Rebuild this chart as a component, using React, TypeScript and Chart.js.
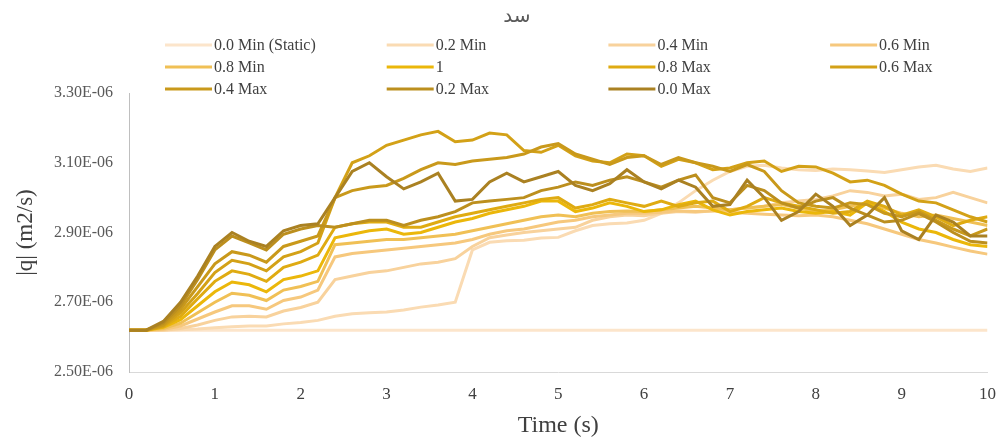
import React, { useEffect, useRef } from "react";
import { Chart, registerables } from "chart.js";

Chart.register(...registerables);

// Time (s)
const TIME = [
  0, 0.2, 0.4, 0.6, 0.8, 1.0, 1.2, 1.4, 1.6, 1.8,
  2.0, 2.2, 2.4, 2.6, 2.8, 3.0, 3.2, 3.4, 3.6, 3.8,
  4.0, 4.2, 4.4, 4.6, 4.8, 5.0, 5.2, 5.4, 5.6, 5.8,
  6.0, 6.2, 6.4, 6.6, 6.8, 7.0, 7.2, 7.4, 7.6, 7.8,
  8.0, 8.2, 8.4, 8.6, 8.8, 9.0, 9.2, 9.4, 9.6, 9.8,
  10.0,
];

// |q| values in units of 1E-06 m2/s
const MIN_00 = [
  2.62, 2.62, 2.62, 2.62, 2.62, 2.62, 2.62, 2.62, 2.62, 2.62,
  2.62, 2.62, 2.62, 2.62, 2.62, 2.62, 2.62, 2.62, 2.62, 2.62,
  2.62, 2.62, 2.62, 2.62, 2.62, 2.62, 2.62, 2.62, 2.62, 2.62,
  2.62, 2.62, 2.62, 2.62, 2.62, 2.62, 2.62, 2.62, 2.62, 2.62,
  2.62, 2.62, 2.62, 2.62, 2.62, 2.62, 2.62, 2.62, 2.62, 2.62,
  2.62,
];
const MIN_02 = [
  2.62, 2.62, 2.62, 2.621, 2.623, 2.627, 2.63, 2.632, 2.632, 2.638,
  2.642, 2.648, 2.66, 2.667, 2.67, 2.672, 2.678, 2.686, 2.692, 2.7,
  2.85, 2.872, 2.876, 2.878, 2.884, 2.886, 2.905, 2.92, 2.925, 2.927,
  2.935, 2.955, 2.985, 3.02, 3.05, 3.075, 3.09, 3.093, 3.085, 3.08,
  3.078, 3.082, 3.08, 3.076, 3.072, 3.08, 3.088, 3.093, 3.082, 3.075,
  3.085,
];
const MIN_04 = [
  2.62, 2.62, 2.62, 2.625, 2.635, 2.648, 2.658, 2.66, 2.658, 2.675,
  2.685, 2.7, 2.765, 2.775, 2.785, 2.79, 2.8, 2.81, 2.815, 2.825,
  2.86, 2.885, 2.893, 2.9, 2.905, 2.91, 2.915, 2.935, 2.945, 2.95,
  2.948, 2.955, 2.96, 2.958, 2.962, 2.965, 2.97, 2.975, 2.985, 2.99,
  2.995, 3.005, 3.02, 3.015, 3.005, 3.01, 2.995, 3.0, 3.015, 3.0,
  2.985,
];
const MIN_06 = [
  2.62, 2.62, 2.622, 2.632, 2.652, 2.672, 2.69, 2.69, 2.68, 2.705,
  2.715, 2.735, 2.83, 2.84, 2.845, 2.85, 2.855, 2.86, 2.865, 2.87,
  2.88, 2.895, 2.905, 2.91, 2.92, 2.93, 2.935, 2.945, 2.95, 2.955,
  2.955, 2.958, 2.962, 2.96, 2.962, 2.958, 2.955, 2.952, 2.95, 2.948,
  2.95, 2.945, 2.935, 2.925, 2.91, 2.895, 2.88, 2.87, 2.858, 2.847,
  2.838,
];
const MIN_08 = [
  2.62, 2.62, 2.625, 2.64, 2.67, 2.7, 2.726, 2.72, 2.705, 2.735,
  2.745, 2.76, 2.865, 2.87, 2.875, 2.88, 2.88, 2.885, 2.89, 2.895,
  2.905, 2.915, 2.925, 2.935, 2.945, 2.95, 2.945, 2.955, 2.96, 2.962,
  2.96, 2.965, 2.97, 2.975, 2.97, 2.965, 2.97, 2.975, 2.98, 2.97,
  2.96, 2.965, 2.975, 2.985, 2.97, 2.955, 2.945, 2.95, 2.94, 2.93,
  2.92,
];
const ONE = [
  2.62, 2.62, 2.628, 2.65, 2.69, 2.73, 2.758, 2.75, 2.73, 2.765,
  2.775, 2.79, 2.885, 2.895, 2.905, 2.91, 2.895, 2.9, 2.915, 2.93,
  2.94, 2.955, 2.965, 2.975, 2.99, 2.99, 2.96, 2.97, 2.985, 2.975,
  2.96, 2.965, 2.98, 2.99, 2.965, 2.95, 2.96, 2.965, 2.97, 2.96,
  2.955, 2.96, 2.95, 2.985, 2.96, 2.93, 2.91, 2.9, 2.88, 2.865,
  2.86,
];
const MAX_08 = [
  2.62, 2.62, 2.63, 2.66, 2.71, 2.76, 2.79, 2.78, 2.76, 2.8,
  2.815, 2.835, 2.915, 2.925, 2.93, 2.93, 2.915, 2.915, 2.93, 2.945,
  2.955, 2.965, 2.975, 2.985, 2.995, 3.0, 2.97, 2.98, 2.995, 2.985,
  2.975, 2.99, 2.975, 2.985, 2.99, 2.96, 2.975, 3.0, 2.985, 2.975,
  2.965, 2.955, 2.96, 2.99, 2.975, 2.95, 2.965, 2.945, 2.92, 2.935,
  2.945,
];
const MAX_06 = [
  2.62, 2.62, 2.632, 2.67, 2.725, 2.785, 2.82, 2.81, 2.79, 2.83,
  2.845, 2.87, 3.0, 3.1, 3.12, 3.15, 3.165, 3.18, 3.19, 3.16,
  3.165, 3.185, 3.18, 3.135, 3.13, 3.15, 3.12, 3.105, 3.1, 3.125,
  3.12, 3.09, 3.11, 3.1, 3.08, 3.085, 3.1, 3.105, 3.075, 3.09,
  3.088, 3.07, 3.045, 3.05, 3.035, 3.01, 2.99, 2.985, 2.965, 2.945,
  2.93,
];
const MAX_04 = [
  2.62, 2.62, 2.635, 2.68, 2.745, 2.81, 2.845, 2.835, 2.815, 2.86,
  2.875, 2.89, 3.0, 3.02, 3.03, 3.035, 3.055, 3.08, 3.1, 3.095,
  3.105, 3.11, 3.115, 3.125, 3.145, 3.155, 3.125, 3.11, 3.095, 3.115,
  3.12, 3.095, 3.115, 3.1, 3.09, 3.075, 3.095, 3.075, 3.02, 2.985,
  2.975, 2.97, 2.985, 2.98, 2.955, 2.945, 2.96, 2.935, 2.91, 2.89,
  2.91,
];
const MAX_02 = [
  2.62, 2.62, 2.64, 2.69, 2.765, 2.85, 2.89, 2.87, 2.85, 2.895,
  2.91, 2.92, 2.915, 2.925, 2.935, 2.935, 2.92, 2.935, 2.945, 2.96,
  2.985, 2.99, 2.995, 3.0, 3.02, 3.03, 3.045, 3.035, 3.05, 3.06,
  3.045, 3.03, 3.05, 3.065, 3.0, 2.985, 3.035, 3.02, 2.985, 2.97,
  2.99, 3.0, 2.97, 2.95, 2.93, 2.935, 2.955, 2.93, 2.9, 2.875,
  2.87,
];
const MAX_00 = [
  2.62, 2.62, 2.645, 2.7, 2.775, 2.86, 2.9, 2.875, 2.86, 2.905,
  2.92, 2.925, 3.0, 3.075, 3.1, 3.06, 3.025, 3.045, 3.07, 2.99,
  2.995, 3.045, 3.07, 3.045, 3.06, 3.075, 3.035, 3.02, 3.04, 3.08,
  3.045, 3.025, 3.05, 3.03, 2.975, 2.98, 3.05, 3.0, 2.935, 2.96,
  3.01, 2.975, 2.92, 2.95, 3.0, 2.905, 2.88, 2.95, 2.93, 2.89,
  2.89,
];

const SERIES_NAMES = [
  "0.0 Min (Static)", "0.2 Min", "0.4 Min", "0.6 Min",
  "0.8 Min", "1", "0.8 Max", "0.6 Max",
  "0.4 Max", "0.2 Max", "0.0 Max",
];
const SERIES_VALUES = [
  MIN_00, MIN_02, MIN_04, MIN_06, MIN_08, ONE,
  MAX_08, MAX_06, MAX_04, MAX_02, MAX_00,
];
const COLORS = [
  "#FCE5CB", "#FADBB3", "#F8D29C", "#F6C87D", "#F0C055", "#EBB70A",
  "#DFAB12", "#D3A117", "#C9991B", "#BC8F1E", "#AA8122",
];

const TITLE = "سد";
const X_TITLE = "Time (s)";
const Y_TITLE = "|q| (m2/s)";

const overlayPlugin = {
  id: "overlayLegendTitle",
  afterDraw(chart: any) {
    const ctx = chart.ctx;
    ctx.save();
    ctx.fillStyle = "#595959";
    ctx.font = '20px "DejaVu Sans"';
    ctx.textAlign = "center";
    ctx.textBaseline = "middle";
    ctx.fillText(TITLE, 517, 17);

    ctx.textAlign = "left";
    ctx.font = '16px "Liberation Serif"';
    SERIES_NAMES.forEach((name, i) => {
      const col = i % 4;
      const row = Math.floor(i / 4);
      const x = 165 + col * 221.7;
      const y = 45 + row * 22;
      ctx.strokeStyle = COLORS[i];
      ctx.lineWidth = 3;
      ctx.beginPath();
      ctx.moveTo(x, y);
      ctx.lineTo(x + 47, y);
      ctx.stroke();
      ctx.fillStyle = "#404040";
      ctx.fillText(name, x + 49, y + 1);
    });
    ctx.restore();
  },
};

export default function App() {
  const canvasRef = useRef<HTMLCanvasElement | null>(null);

  useEffect(() => {
    if (!canvasRef.current) return;
    const datasets = SERIES_VALUES.map((vals, i) => ({
      label: SERIES_NAMES[i],
      data: vals.map((v, j) => ({ x: TIME[j], y: v })),
      borderColor: COLORS[i],
      backgroundColor: COLORS[i],
      borderWidth: 3,
      pointRadius: 0,
      tension: 0,
      fill: false,
      order: SERIES_VALUES.length - i,
    }));
    const chart = new Chart(canvasRef.current, {
      type: "line",
      data: { datasets },
      options: {
        animation: false,
        responsive: false,
        maintainAspectRatio: false,
        layout: { padding: { left: 0, right: 15, top: 93, bottom: 0 } },
        plugins: {
          legend: { display: false },
          title: { display: false },
          tooltip: { enabled: false },
        },
        scales: {
          x: {
            type: "linear",
            min: 0,
            max: 10,
            grid: { display: false, drawTicks: false },
            border: { display: true, color: "#D9D9D9", width: 1 },
            ticks: {
              stepSize: 1,
              padding: 12,
              color: "#404040",
              font: { family: "Liberation Serif", size: 17 },
            },
            title: {
              display: true,
              text: X_TITLE,
              color: "#404040",
              font: { family: "Liberation Serif", size: 24, lineHeight: 1.0 },
              padding: { top: 0, bottom: 0 },
            },
            afterFit: (scale: any) => {
              scale.height = 66;
            },
          },
          y: {
            type: "linear",
            min: 2.5,
            max: 3.3,
            grid: { display: false, drawTicks: false },
            border: { display: true, color: "#BFBFBF", width: 1 },
            ticks: {
              stepSize: 0.2,
              padding: 16,
              color: "#595959",
              font: { family: "Liberation Serif", size: 16 },
              callback: (v: any) => Number(v).toFixed(2) + "E-06",
            },
            title: {
              display: true,
              text: Y_TITLE,
              color: "#404040",
              font: { family: "Liberation Serif", size: 23 },
              padding: { top: 12, bottom: 0 },
            },
            afterFit: (scale: any) => {
              scale.width = 129;
            },
          },
        },
      },
      plugins: [overlayPlugin],
    });
    return () => chart.destroy();
  }, []);

  return (
    <div style={{ position: "absolute", left: 0, top: 0, width: 1008, height: 438, background: "#fff" }}>
      <canvas ref={canvasRef} width={1008} height={438} style={{ display: "block", width: 1008, height: 438 }} />
    </div>
  );
}
